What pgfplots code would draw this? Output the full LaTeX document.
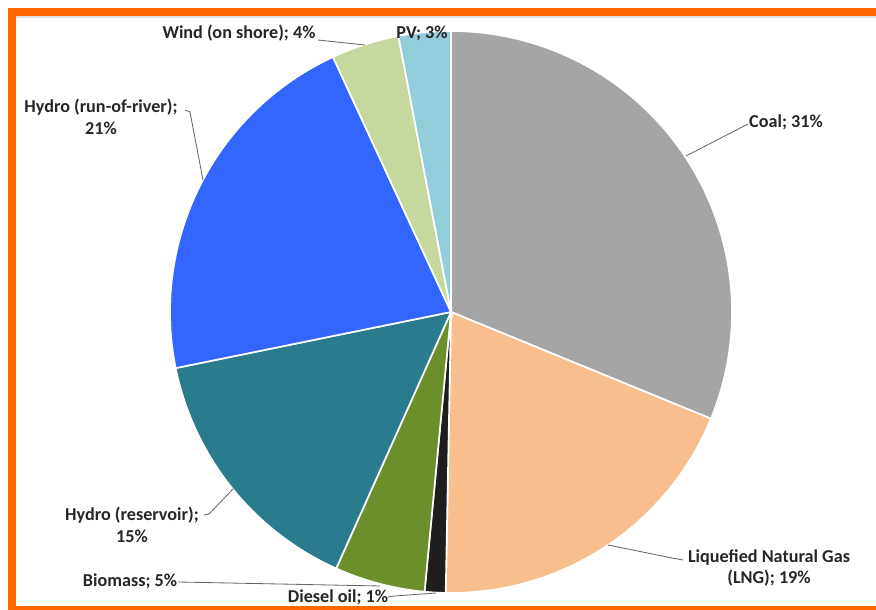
\documentclass[border=0pt]{standalone}
\usepackage{pgfplots}
\usepackage{pgfplotstable}
\pgfplotsset{compat=1.18}
\usepackage{fontspec}
\setmainfont{Carlito}
\definecolor{col0}{HTML}{A5A5A5}
\definecolor{col1}{HTML}{F9BE8E}
\definecolor{col2}{HTML}{1E1E1E}
\definecolor{col3}{HTML}{6C8F2C}
\definecolor{col4}{HTML}{2B7B8E}
\definecolor{col5}{HTML}{3366FF}
\definecolor{col6}{HTML}{C6D89E}
\definecolor{col7}{HTML}{92CDDC}
\definecolor{frameor}{HTML}{FF6600}
\definecolor{txt}{HTML}{262626}
% shares in percent, clockwise from 12 o'clock:
% Coal, LNG, Diesel oil, Biomass, Hydro (reservoir), Hydro (run-of-river), Wind, PV
\pgfplotstableread{
idx value
0 31.2
1 19.1
2 1.2
3 5.2
4 15.1
5 21.3
6 3.9
7 3.0
}\piedata
\pgfplotstablecreatecol[create col/expr accum={\pgfmathaccuma + \thisrow{value}}{0}]{cum}\piedata
\begin{document}
\begin{tikzpicture}
\begin{axis}[
  at={(0,0)}, anchor=south west,
  width=525.6pt, height=366pt, scale only axis,
  xmin=0, xmax=876, ymin=0, ymax=610,
  axis lines=none, ticks=none, clip=false,
]
% frame
\fill[frameor] (axis cs:8,594) rectangle (axis cs:876,602);
\fill[frameor] (axis cs:8,0) rectangle (axis cs:16,602);
\fill[frameor] (axis cs:8,0) rectangle (axis cs:876,4);
\fill[black!12] (axis cs:16,592) rectangle (axis cs:876,594);
% slices
\pgfplotsinvokeforeach{0,...,7}{
  \pgfplotstablegetelem{#1}{cum}\of\piedata \let\c=\pgfplotsretval
  \pgfplotstablegetelem{#1}{value}\of\piedata \let\v=\pgfplotsretval
  \pgfmathsetmacro\aE{90-3.6*\c}
  \pgfmathsetmacro\aS{90-3.6*(\c-\v)}
  \edef\doslice{\noexpand\addplot[fill=col#1, draw=white, line width=1pt, domain=\aE:\aS, samples=80, variable=\noexpand\t] ({451+281*cos(\noexpand\t)},{298+281*sin(\noexpand\t)}) -- (axis cs:451,298) -- cycle;}
  \doslice
}
% leader lines
\draw[black!60, line width=0.5pt] (axis cs:318,570) -- (axis cs:365,565);
\draw[black!60, line width=0.5pt] (axis cs:185,500) -- (axis cs:190,498) -- (axis cs:203,430);
\draw[black!60, line width=0.5pt] (axis cs:748,486) -- (axis cs:686,454);
\draw[black!60, line width=0.5pt] (axis cs:204,95) -- (axis cs:209,96) -- (axis cs:233,121);
\draw[black!60, line width=0.5pt] (axis cs:178,28) -- (axis cs:380,24);
\draw[black!60, line width=0.5pt] (axis cs:388,13) -- (axis cs:395,14) -- (axis cs:436,17);
\draw[black!60, line width=0.5pt] (axis cs:683,50) -- (axis cs:672,52) -- (axis cs:608,65);
% labels
\begin{scope}[every node/.style={font=\fontsize{10.9}{13}\selectfont\bfseries, text=txt, inner sep=0pt, align=center}]
\node at (axis cs:239,577) {Wind (on shore); 4\%};
\node at (axis cs:422,577) {PV; 3\%};
\node at (axis cs:101,493) {Hydro (run-of-river);\\21\%};
\node at (axis cs:786,488) {Coal; 31\%};
\node at (axis cs:132,85) {Hydro (reservoir);\\15\%};
\node at (axis cs:130,29) {Biomass; 5\%};
\node at (axis cs:338,13) {Diesel oil; 1\%};
\node at (axis cs:769,42) {Liquefied Natural Gas\\(LNG); 19\%};
\end{scope}
\end{axis}
\pgfresetboundingbox
\path (0,0) rectangle (525.6pt,366pt);
\end{tikzpicture}
\end{document}
